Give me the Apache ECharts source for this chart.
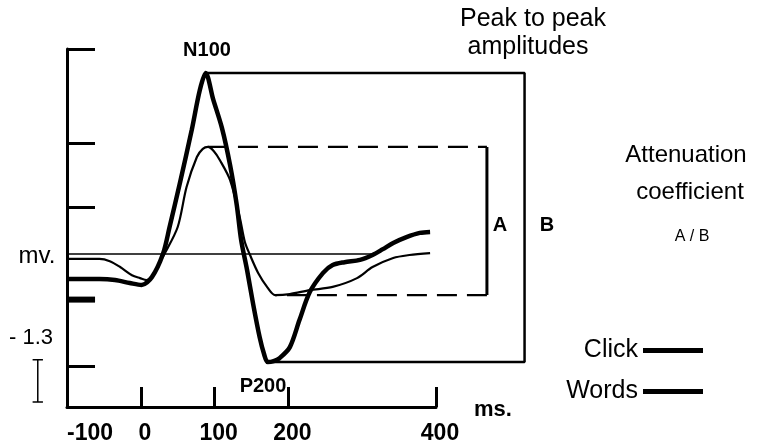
<!DOCTYPE html>
<html><head><meta charset="utf-8">
<script src="https://cdn.jsdelivr.net/npm/echarts@6/dist/echarts.min.js"></script>
<style>html,body{margin:0;padding:0;background:#fff}#c{width:760px;height:445px}</style>
</head><body><div id="c"></div>
<script>
// ---- data (time in ms, amplitude in µV; negative plotted upward) ----
const xTickValues = [0, 100, 200, 400];
const xLabelValues = [-100, 0, 100, 200, 400];
const yTickValues = [-6.3, -3.4, -1.45, 1.4, 3.45];
const yThickTick = 1.4;
const clickTimes  = [-100,-56,-35,-15,1,15,30,39,53,69,80,88,98,110,121,130,136,144,152,161,167,172,180,188,202,215,229,247,260,276,297,314,328,342,360,378,392];
const clickValues = [0.77,0.77,0.80,0.89,0.95,0.71,0,-0.83,-2.18,-3.81,-5.04,-5.56,-4.76,-3.87,-2.73,-1.51,-0.43,0.49,1.51,2.55,3.07,3.32,3.29,3.20,2.86,2.03,1.17,0.58,0.34,0.25,0.18,0.03,-0.15,-0.34,-0.52,-0.65,-0.68];
const wordsTimes  = [-100,-56,-42,-28,-12,-1,8,16,22,32,50,62,76,84,91,99,107,121,134,141,148,159,172,182,202,229,260,293,314,342,364,392];
const wordsValues = [0.15,0.15,0.22,0.40,0.65,0.74,0.80,0.68,0.40,0,-0.83,-2.06,-2.98,-3.23,-3.29,-3.16,-2.89,-2.27,-1.14,-0.37,0.03,0.58,1.04,1.26,1.23,1.11,1.01,0.74,0.40,0.12,0.03,-0.03];
const boxRightA = 469;   // ms, right edge of dashed box A
const boxRightB = 520;   // ms, right edge of solid box B
const baselineRange = [-100, 320];
const scaleBarTime = -139.6;
const scaleBarRange = [3.25, 4.55];
const scaleBarLabel = '- 1.3';

const zip = (t, v) => t.map((x, i) => [x, v[i]]);
const clickData = zip(clickTimes, clickValues);
const wordsData = zip(wordsTimes, wordsValues);
function peak(d, fn) { let b = d[0]; d.forEach(p => { if (fn(p[1], b[1])) b = p; }); return b; }
const clickN = peak(clickData, (a, b) => a < b), clickP = peak(clickData, (a, b) => a > b);
const wordsN = peak(wordsData, (a, b) => a < b);
const wordsP = peak(wordsData.filter(p => p[0] < 250), (a, b) => a > b);

const BLACK = '#000';
const SANS = "'Liberation Sans', Arial, sans-serif";
const NARROW = "'Liberation Sans Narrow', 'Liberation Sans', Arial, sans-serif";

// main axis geometry: -100..400 ms over 369 px; overlay grid shares the same scale but is wider
const X_MIN = -100, X_MAX = 400, GRID_LEFT = 67, GRID_W = 369;
const PX_PER_MS = GRID_W / (X_MAX - X_MIN);
const OV_MIN = -150, OV_MAX = 600;
const Y_MIN = -6.3, Y_MAX = 4.7;

function seg(name, data, width, type) {
  return { type: 'line', name, data, symbol: 'none', silent: true, xAxisIndex: 1, yAxisIndex: 1,
    lineStyle: { color: BLACK, width, type: type || 'solid' }, itemStyle: { color: BLACK }, z: 3 };
}

const labelFont = { color: BLACK, fontFamily: NARROW, fontWeight: 'bold', fontSize: 23 };

const chart = echarts.init(document.getElementById('c'), null, { renderer: 'canvas' });
chart.setOption({
  animation: false,
  backgroundColor: '#fff',
  grid: [
    { left: GRID_LEFT, top: 49, width: GRID_W, height: 358, containLabel: false },
    { left: GRID_LEFT - (X_MIN - OV_MIN) * PX_PER_MS, top: 49, width: (OV_MAX - OV_MIN) * PX_PER_MS, height: 358, containLabel: false }
  ],
  xAxis: [{
    type: 'value', min: X_MIN, max: X_MAX, gridIndex: 0,
    axisLine: { onZero: false, lineStyle: { color: BLACK, width: 3 } },
    axisTick: { show: true, inside: true, length: 20, customValues: xTickValues, lineStyle: { color: BLACK, width: 3 } },
    axisLabel: { customValues: xLabelValues, margin: 15, alignMinLabel: 'left', ...labelFont,
      formatter: v => (v === X_MIN ? '{a|' + v + '}' : '{b|' + v + '}'),
      rich: { a: { ...labelFont }, b: { ...labelFont, padding: [0, 0, 0, 8] } } },
    splitLine: { show: false }
  }, {
    type: 'value', min: OV_MIN, max: OV_MAX, gridIndex: 1, show: false
  }],
  yAxis: [{
    type: 'value', inverse: true, min: Y_MIN, max: Y_MAX, gridIndex: 0,
    axisLine: { show: true, onZero: false, lineStyle: { color: BLACK, width: 3 } },
    axisTick: { show: true, inside: true, length: 28, customValues: yTickValues, lineStyle: { color: BLACK, width: 3 } },
    axisLabel: { show: false },
    splitLine: { show: false }
  }, {
    type: 'value', inverse: true, min: Y_MIN, max: Y_MAX, gridIndex: 1, show: false
  }],
  legend: {
    data: ['Click', 'Words'], orient: 'vertical', align: 'right', right: 57, top: 336, padding: 0,
    icon: 'rect', itemWidth: 60, itemHeight: 5, itemGap: 12,
    textStyle: { fontFamily: SANS, fontSize: 25, color: BLACK, lineHeight: 29 }
  },
  series: [
    seg('baseline', [[baselineRange[0], 0], [baselineRange[1], 0]], 1.5),
    seg('thickTick', [[-100, yThickTick], [-62, yThickTick]], 6),
    seg('boxB', [[clickN[0], clickN[1]], [boxRightB, clickN[1]], [boxRightB, clickP[1]], [clickP[0], clickP[1]]], 2.5),
    seg('boxA-top', [[wordsN[0], wordsN[1]], [boxRightA, wordsN[1]]], 2.2, [20, 10]),
    seg('boxA-right', [[boxRightA, wordsN[1]], [boxRightA, wordsP[1]]], 3),
    seg('boxA-bottom', [[boxRightA, wordsP[1]], [wordsP[0], wordsP[1]]], 2.2, [20, 10]),
    seg('scaleBar', [[scaleBarTime, scaleBarRange[0]], [scaleBarTime, scaleBarRange[1]]], 1.5),
    seg('scaleBarTop', [[scaleBarTime - 7, scaleBarRange[0]], [scaleBarTime + 7, scaleBarRange[0]]], 1.5),
    seg('scaleBarBot', [[scaleBarTime - 7, scaleBarRange[1]], [scaleBarTime + 7, scaleBarRange[1]]], 1.5),
    { type: 'line', name: 'Words', data: wordsData, smooth: 0.3, symbol: 'none', z: 4,
      color: BLACK, lineStyle: { color: BLACK, width: 2.2 } },
    { type: 'line', name: 'Click', data: clickData, smooth: 0.3, symbol: 'none', z: 5,
      color: BLACK, lineStyle: { color: BLACK, width: 4.5 } }
  ],
  graphic: [
    { type: 'text', x: 533, y: 19, style: { text: 'Peak to peak', font: "25px " + SANS, fill: BLACK, align: 'center', verticalAlign: 'middle' } },
    { type: 'text', x: 528, y: 47, style: { text: 'amplitudes', font: "25px " + SANS, fill: BLACK, align: 'center', verticalAlign: 'middle' } },
    { type: 'text', x: 686, y: 155, style: { text: 'Attenuation', font: "24px " + SANS, fill: BLACK, align: 'center', verticalAlign: 'middle' } },
    { type: 'text', x: 690, y: 192, style: { text: 'coefficient', font: "24px " + SANS, fill: BLACK, align: 'center', verticalAlign: 'middle' } },
    { type: 'text', x: 692, y: 237, style: { text: 'A / B', font: "16px " + SANS, fill: BLACK, align: 'center', verticalAlign: 'middle' } },
    { type: 'text', x: 207, y: 50, style: { text: 'N100', font: "bold 20px " + SANS, fill: BLACK, align: 'center', verticalAlign: 'middle' } },
    { type: 'text', x: 263, y: 386, style: { text: 'P200', font: "bold 20px " + NARROW, fill: BLACK, align: 'center', verticalAlign: 'middle' } },
    { type: 'text', x: 500, y: 225, style: { text: 'A', font: "bold 20px " + SANS, fill: BLACK, align: 'center', verticalAlign: 'middle' } },
    { type: 'text', x: 547, y: 225, style: { text: 'B', font: "bold 20px " + SANS, fill: BLACK, align: 'center', verticalAlign: 'middle' } },
    { type: 'text', x: 37, y: 256, style: { text: 'mv.', font: "24px " + SANS, fill: BLACK, align: 'center', verticalAlign: 'middle' } },
    { type: 'text', x: 31, y: 338, style: { text: scaleBarLabel, font: "22px " + SANS, fill: BLACK, align: 'center', verticalAlign: 'middle' } },
    { type: 'text', x: 474, y: 410, style: { text: 'ms.', font: "bold 22px " + NARROW, fill: BLACK, align: 'left', verticalAlign: 'middle' } }
  ]
});
</script></body></html>
